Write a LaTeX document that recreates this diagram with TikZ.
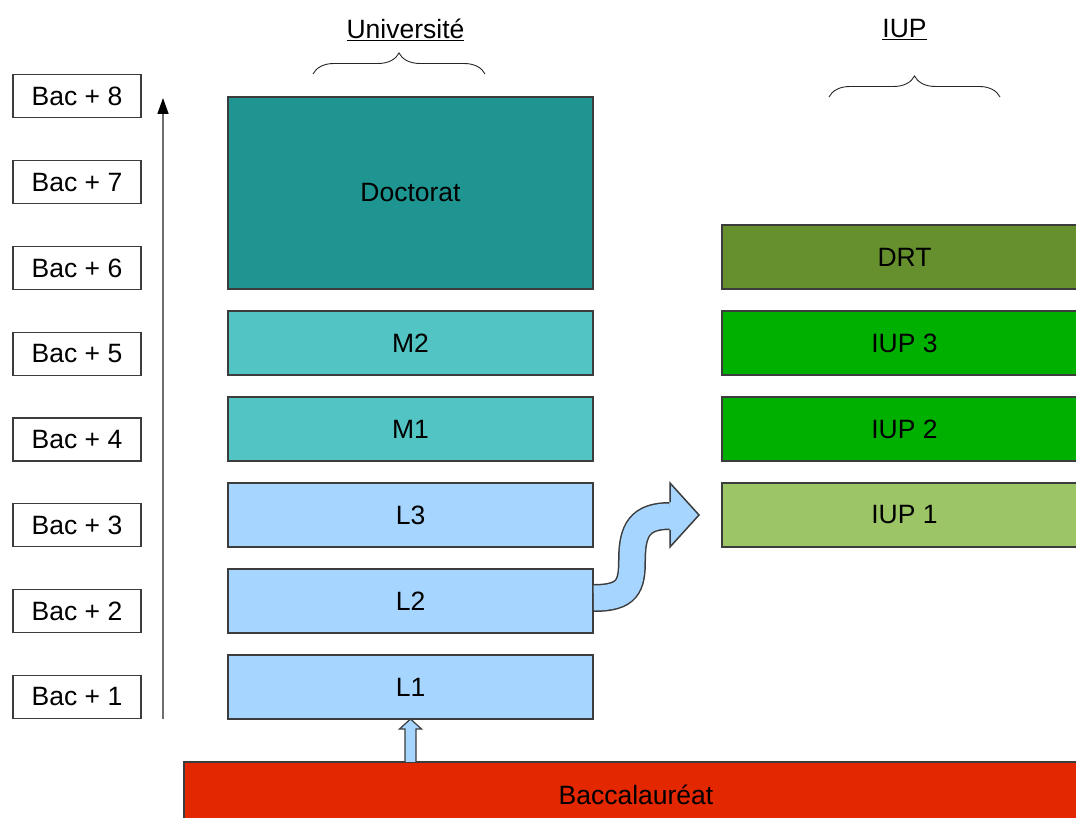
\documentclass[tikz,border=0pt]{standalone}
\usepackage{fontspec}
\setmainfont{Liberation Sans}
\usepackage{tikz}
\usetikzlibrary{arrows.meta,positioning,calc,decorations.pathreplacing}

\definecolor{edge}{HTML}{3C3C3C}
\definecolor{axisgrey}{HTML}{6E6E6E}
\definecolor{doct}{HTML}{1F9591}
\definecolor{mast}{HTML}{52C4C4}
\definecolor{lic}{HTML}{A6D5FF}
\definecolor{drt}{HTML}{668F2E}
\definecolor{iupg}{HTML}{00B000}
\definecolor{iupone}{HTML}{9CC566}
\definecolor{bacred}{HTML}{E32700}

\begin{document}
\begin{tikzpicture}[x=1pt,y=1pt,node distance=22pt,
                    every node/.style={font=\fontsize{26.5}{30}\selectfont},
                    box/.style={draw=edge,line width=1.5pt,inner sep=0pt,outer sep=0pt,
                                minimum width=365pt,minimum height=64pt},
                    bac/.style={draw=edge,line width=1.2pt,inner sep=0pt,outer sep=0pt,
                                minimum width=128pt,minimum height=43pt},
                    brace/.style={decorate,decoration={brace,amplitude=21pt},
                                  draw=black!85,line width=0.9pt}]
    \useasboundingbox (0,0) rectangle (1076,818);

    % niveaux
    \node [bac] (b1) at (77,121)       {Bac + 1};
    \node [bac] (b2) [above=42.8pt of b1] {Bac + 2};
    \node [bac] (b3) [above=42.8pt of b2] {Bac + 3};
    \node [bac] (b4) [above=42.8pt of b3] {Bac + 4};
    \node [bac] (b5) [above=42.8pt of b4] {Bac + 5};
    \node [bac] (b6) [above=42.8pt of b5] {Bac + 6};
    \node [bac] (b7) [above=42.8pt of b6] {Bac + 7};
    \node [bac] (b8) [above=42.8pt of b7] {Bac + 8};

    \coordinate (ax0) at (163,99);
    \coordinate (ax1) at (163,720);
    \draw [-{Triangle[length=16pt,width=11pt,black]},draw=axisgrey,line width=1.5pt] (ax0) -- (ax1);

    % universite
    \node [box,fill=lic]  (L1) at (410.5,131)  {L1};
    \node [box,fill=lic]  (L2) [above=of L1]   {L2};
    \node [box,fill=lic]  (L3) [above=of L2]   {L3};
    \node [box,fill=mast] (M1) [above=of L3]   {M1};
    \node [box,fill=mast] (M2) [above=of M1]   {M2};
    \node [box,fill=doct,minimum height=192pt] (doc) [above=of M2] {Doctorat};

    % IUP
    \node [box,fill=iupone] (IUP1) [right=129pt of L3] {IUP 1};
    \node [box,fill=iupg]   (IUP2) [above=of IUP1]     {IUP 2};
    \node [box,fill=iupg]   (IUP3) [above=of IUP2]     {IUP 3};
    \node [box,fill=drt]    (DRT)  [above=of IUP3]     {DRT};

    \node [draw=edge,fill=bacred,line width=1.5pt,inner sep=0pt,outer sep=0pt,
           minimum width=904pt,minimum height=66pt] (bacc) at (636,23) {Baccalaur\'eat};

    % fleches
    \filldraw [fill=lic,draw=edge,line width=1.2pt] ($(L1.south)+(-5.5,-43)$) -- ++(0,33) -- ++(-5.5,0)
        -- (L1.south) -- ($(L1.south)+(11,-10)$) -- ++(-5.5,0) -- ++(0,-33);

    \draw [line width=1.5pt,draw=edge,double=lic,double distance=25pt]
        ($(L2.east)+(0.8,3)$) .. controls +(34,0) and +(0,-26) .. ($(L2.east)+(39,41)$)
        .. controls +(0,30) and +(-30,0) .. ($(IUP1.west)+(-52,-1)$);
    \fill [lic] ($(IUP1.west)+(-52.5,32)$) -- ($(IUP1.west)+(-23,0)$) -- ($(IUP1.west)+(-52.5,-32)$) -- cycle;
    \draw [draw=edge,line width=1.5pt] ($(IUP1.west)+(-52,12.8)$) -- ($(IUP1.west)+(-52,32)$)
        -- ($(IUP1.west)+(-23,0)$) -- ($(IUP1.west)+(-52,-32)$) -- ($(IUP1.west)+(-52,-14.8)$);

    % titres
    \node (univ) at (405.5,788) {\underline{Universit\'e}};
    \node (iup)  at (904.5,788) {\underline{IUP}};
    \coordinate (univl) at (313,744);
    \coordinate (univr) at (485,744);
    \coordinate (iupl)  at (829,721);
    \coordinate (iupr)  at (1000,721);
    \draw [brace] (univl) -- (univr);
    \draw [brace] (iupl) -- (iupr);
\end{tikzpicture}
\end{document}
